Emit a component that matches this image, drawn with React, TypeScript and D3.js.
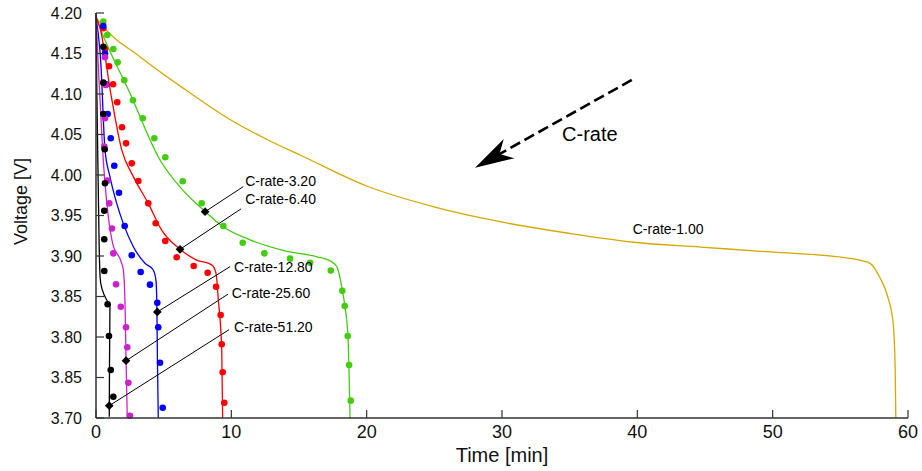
import React from "react";
import * as d3 from "d3";

// ---------- DATA ----------
const yTickValues = [3.7, 3.75, 3.8, 3.85, 3.9, 3.95, 4.0, 4.05, 4.1, 4.15, 4.2];
const yTickLabels = ["3.70", "3.85", "3.80", "3.85", "3.90", "3.95", "4.00", "4.05", "4.10", "4.15", "4.20"];
const xTickValues = [0, 10, 20, 30, 40, 50, 60];
const xTickLabels = ["0", "10", "20", "30", "40", "50", "60"];

// Model lines: [time(min), voltage(V)]
const line100: [number, number][] = [
  [0, 4.195], [0.3, 4.188], [3.25, 4.146], [6.58, 4.1056], [9.9, 4.0685], [12.86, 4.042], [15.08, 4.0247],
  [20.0, 3.9864], [24.9, 3.961], [29.86, 3.9423], [34.79, 3.9284], [39.7, 3.917], [44.66, 3.911],
  [49.8, 3.905], [55.7, 3.897], [57.2, 3.891], [57.9, 3.874], [58.5, 3.85], [58.9, 3.817], [59.05, 3.763], [59.1, 3.70],
];
const line320: [number, number][] = [
  [0, 4.195], [0.3, 4.1815], [2.51, 4.101], [4.73, 4.0185], [6.43, 3.981], [8.06, 3.955],
  [9.39, 3.936], [11.38, 3.92], [13.82, 3.907], [16.33, 3.899], [17.3, 3.894], [17.79, 3.887],
  [18.16, 3.862], [18.4, 3.837], [18.62, 3.8], [18.77, 3.70],
];
const line640: [number, number][] = [
  [0, 4.195], [0.3, 4.1815], [1.09, 4.1009], [1.9, 4.031], [2.76, 3.998], [3.86, 3.965],
  [4.85, 3.932], [6.21, 3.9083], [7.44, 3.895], [8.55, 3.889], [8.87, 3.8786], [9.04, 3.8457],
  [9.29, 3.784], [9.36, 3.70],
];
const line1280: [number, number][] = [
  [0, 4.195], [0.35, 4.14], [0.665, 4.031], [1.03, 3.998], [1.53, 3.965], [2.02, 3.94],
  [2.76, 3.9115], [3.62, 3.891], [4.23, 3.8827], [4.43, 3.87], [4.49, 3.8457], [4.54, 3.7716], [4.6, 3.70],
];
const line2560: [number, number][] = [
  [0, 4.2], [0.15, 4.142], [0.3, 4.0926], [0.49, 4.031], [0.665, 3.9898], [0.91, 3.9485],
  [1.23, 3.9157], [1.9, 3.891], [2.02, 3.8827], [2.14, 3.8457], [2.22, 3.7716], [2.31, 3.70],
];
const line5120: [number, number][] = [
  [0, 4.2], [0.07, 4.0926], [0.18, 3.969], [0.3, 3.8744], [0.79, 3.8457], [1.03, 3.8395],
  [1.0, 3.7716], [0.98, 3.7016],
];

// Experimental points
const dots320: [number, number][] = [
  [0.54, 4.1893], [0.835, 4.1728], [1.28, 4.1556], [1.6, 4.1391], [2.09, 4.1169], [2.73, 4.0922],
  [3.45, 4.07], [4.31, 4.0453], [5.12, 4.0219], [6.41, 3.9923], [7.81, 3.9651], [9.41, 3.937],
  [10.84, 3.9164], [12.44, 3.9033], [14.34, 3.8967], [15.82, 3.8917], [17.35, 3.882], [18.2, 3.857],
  [18.38, 3.8383], [18.6, 3.8012], [18.7, 3.7654], [18.82, 3.7214],
];
const dots640: [number, number][] = [
  [0.54, 4.1811], [0.665, 4.1556], [0.96, 4.1342], [1.26, 4.112], [1.57, 4.0898], [1.92, 4.0589],
  [2.22, 4.0391], [2.64, 4.0144], [3.13, 3.9926], [3.86, 3.965], [4.41, 3.9404], [5.12, 3.9185],
  [5.96, 3.8984], [7.22, 3.8877], [8.25, 3.8794], [8.87, 3.8621], [9.21, 3.8272], [9.29, 3.791],
  [9.36, 3.7564], [9.48, 3.7189],
];
const dots1280: [number, number][] = [
  [0.54, 4.184], [0.665, 4.15], [0.74, 4.112], [0.86, 4.0753], [1.09, 4.0453], [1.35, 4.0115],
  [1.7, 3.9781], [2.12, 3.937], [2.64, 3.9009], [3.3, 3.8802], [3.99, 3.8646], [4.53, 3.8423],
  [4.6, 3.812], [4.73, 3.7683], [4.93, 3.7127],
];
const dots2560: [number, number][] = [
  [0.665, 4.1453], [0.72, 4.1111], [0.665, 4.07], [0.61, 4.035], [0.835, 3.993], [0.98, 3.965],
  [1.18, 3.934], [1.28, 3.9033], [1.48, 3.865], [1.83, 3.8374], [2.22, 3.812], [2.31, 3.7873],
  [2.39, 3.7436], [2.51, 3.7028],
];
const dots5120: [number, number][] = [
  [0.54, 4.1584], [0.54, 4.114], [0.54, 4.0753], [0.64, 4.0317], [0.665, 3.9898], [0.61, 3.9559],
  [0.61, 3.9206], [0.61, 3.8815], [0.86, 3.8404], [0.96, 3.8012], [1.09, 3.7593], [1.28, 3.7263],
];

// Annotations: marker on curve, leader end, label anchor (left, baseline)
const annotLabels = ["C-rate-3.20", "C-rate-6.40", "C-rate-12.80", "C-rate-25.60", "C-rate-51.20"];
const annotMarkers: [number, number][] = [[8.06, 3.9547], [6.21, 3.9083], [4.53, 3.8309], [2.22, 3.7707], [0.98, 3.7152]];
const annotLeaderEnds: [number, number][] = [[10.88, 3.9856], [10.72, 3.9582], [9.9, 3.8868], [9.76, 3.853], [9.83, 3.809]];
const annotTextPos: [number, number][] = [[11.02, 3.9865], [11.02, 3.9642], [10.2, 3.8806], [10.03, 3.8478], [10.2, 3.8065]];
const label100 = "C-rate-1.00";
const label100Pos: [number, number] = [39.66, 3.9272];
const arrowStart: [number, number] = [39.59, 4.1173];
const arrowTip: [number, number] = [28.01, 4.009];
const arrowLabel = "C-rate";
const arrowLabelPos: [number, number] = [34.44, 4.042];

const COLORS = {
  c100: "#d6a800",
  c320: "#44cc11",
  c640: "#ff0000",
  c1280: "#0000ff",
  c2560: "#cc22cc",
  c5120: "#000000",
};

const W = 922;
const H = 471;
const FONT = "'Liberation Sans', Arial, Helvetica, sans-serif";

export default function App() {
  const x = d3.scaleLinear().domain([0, 60]).range([96, 908]);
  const y = d3.scaleLinear().domain([3.7, 4.2]).range([418, 13]);
  const lineX = d3
    .line<[number, number]>()
    .x((d) => x(d[0]))
    .y((d) => y(d[1]))
    .curve(d3.curveMonotoneX);
  const lineY = d3
    .line<[number, number]>()
    .x((d) => x(d[0]))
    .y((d) => y(d[1]))
    .curve(d3.curveMonotoneY);

  const series = [
    { line: line100, dots: [] as [number, number][], color: COLORS.c100, gen: lineX },
    { line: line320, dots: dots320, color: COLORS.c320, gen: lineX },
    { line: line640, dots: dots640, color: COLORS.c640, gen: lineX },
    { line: line1280, dots: dots1280, color: COLORS.c1280, gen: lineX },
    { line: line2560, dots: dots2560, color: COLORS.c2560, gen: lineX },
    { line: line5120, dots: dots5120, color: COLORS.c5120, gen: lineY },
  ];

  const x0 = x(0);
  const y0 = y(3.7);
  const axisColor = "#333";

  // arrow geometry
  const sx = x(arrowStart[0]), sy = y(arrowStart[1]);
  const tx = x(arrowTip[0]), ty = y(arrowTip[1]);
  const len = Math.hypot(tx - sx, ty - sy);
  const ux = (tx - sx) / len, uy = (ty - sy) / len;
  const px = -uy, py = ux;
  const headLen = 39, headHalf = 11, notch = 28;
  const b1 = [tx - ux * headLen + px * headHalf, ty - uy * headLen + py * headHalf];
  const b2 = [tx - ux * headLen - px * headHalf, ty - uy * headLen - py * headHalf];
  const nt = [tx - ux * notch, ty - uy * notch];
  const arrowPath = `M${tx},${ty}L${b1[0]},${b1[1]}L${nt[0]},${nt[1]}L${b2[0]},${b2[1]}Z`;

  const diamond = d3.symbol().type(d3.symbolSquare).size(38)();

  return (
    <svg
      width={W}
      height={H}
      style={{ position: "absolute", left: 0, top: 0, background: "#fff" }}
      fontFamily={FONT}
    >
      <rect width={W} height={H} fill="#fff" />
      {/* curves */}
      {series.map((s, i) => (
        <path key={"l" + i} d={s.gen(s.line) || ""} fill="none" stroke={s.color} strokeWidth={1.3} />
      ))}
      {/* dots */}
      {series.map((s, i) =>
        s.dots.map((d, j) => (
          <circle key={"d" + i + "-" + j} cx={x(d[0])} cy={y(d[1])} r={3.3} fill={s.color} />
        ))
      )}
      {/* axes */}
      <line x1={x0} y1={y0} x2={x0} y2={y(4.2)} stroke={axisColor} strokeWidth={1.5} />
      <line x1={x0} y1={y0} x2={x(60)} y2={y0} stroke={axisColor} strokeWidth={1.5} />
      {yTickValues.map((v, i) => (
        <g key={"yt" + i}>
          <line x1={x0} x2={x0 + 8} y1={y(v)} y2={y(v)} stroke={axisColor} strokeWidth={1.2} />
          <text x={x0 - 14} y={y(v)} dy="0.36em" textAnchor="end" fontSize={16} fill="#111">
            {yTickLabels[i]}
          </text>
        </g>
      ))}
      {xTickValues.map((v, i) => (
        <g key={"xt" + i}>
          <line x1={x(v)} x2={x(v)} y1={y0} y2={y0 - 8} stroke={axisColor} strokeWidth={1.2} />
          <text x={x(v)} y={y0 + 20} textAnchor="middle" fontSize={18} fill="#111">
            {xTickLabels[i]}
          </text>
        </g>
      ))}
      <text x={(x(0) + x(60)) / 2} y={462} textAnchor="middle" fontSize={20} fill="#111">
        Time [min]
      </text>
      <text
        transform={`translate(27,${(y(3.7) + y(4.2)) / 2 - 14}) rotate(-90)`}
        textAnchor="middle"
        fontSize={18}
        fill="#111"
      >
        Voltage [V]
      </text>
      {/* annotations */}
      {annotLabels.map((lab, i) => {
        const m = annotMarkers[i];
        const e = annotLeaderEnds[i];
        const t = annotTextPos[i];
        return (
          <g key={"a" + i}>
            <line x1={x(m[0])} y1={y(m[1])} x2={x(e[0])} y2={y(e[1])} stroke="#000" strokeWidth={1} />
            <path d={diamond || ""} transform={`translate(${x(m[0])},${y(m[1])}) rotate(45)`} fill="#000" />
            <text x={x(t[0])} y={y(t[1])} fontSize={14} fill="#000">
              {lab}
            </text>
          </g>
        );
      })}
      <text x={x(label100Pos[0])} y={y(label100Pos[1])} fontSize={14} fill="#000">
        {label100}
      </text>
      {/* arrow */}
      <line x1={sx} y1={sy} x2={nt[0]} y2={nt[1]} stroke="#000" strokeWidth={2.6} strokeDasharray="11,5" />
      <path d={arrowPath} fill="#000" />
      <text x={x(arrowLabelPos[0])} y={y(arrowLabelPos[1])} fontSize={20} fill="#000">
        {arrowLabel}
      </text>
    </svg>
  );
}
